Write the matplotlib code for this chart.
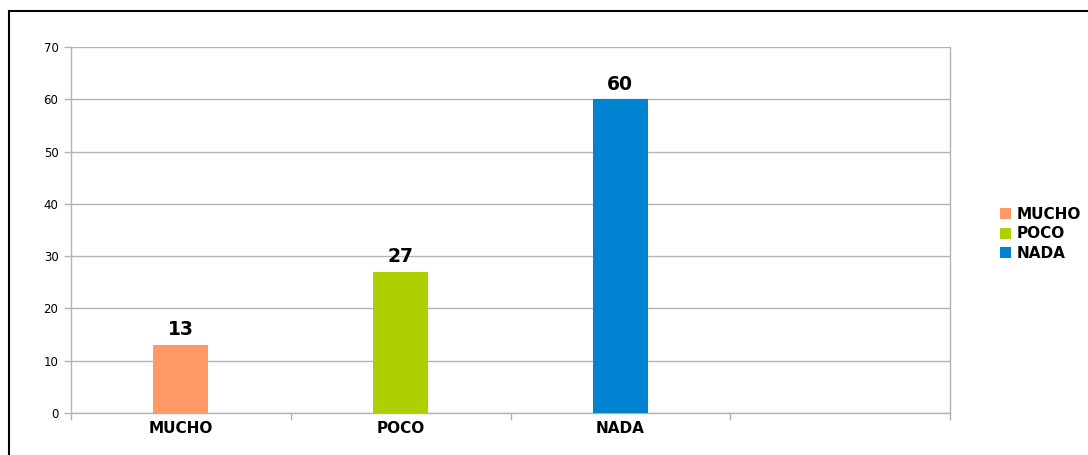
import matplotlib
matplotlib.use("Agg")
import matplotlib.pyplot as plt
from matplotlib.lines import Line2D
from matplotlib.patches import Patch

categories = ["MUCHO", "POCO", "NADA", ""]
values = [13, 27, 60]
colors = ["#FF9966", "#AECF00", "#0084D1"]
yticks = [0, 10, 20, 30, 40, 50, 60, 70]

plt.rcParams['font.family'] = ['DejaVu Sans']

fig = plt.figure(figsize=(10.88, 4.55), dpi=100)
ax = fig.add_axes([71/1088, 1 - 413/455, (950 - 71)/1088, (413 - 47)/455])

grid_c = "#B3B3B3"
x = list(range(len(values)))
ax.bar(x, values, width=0.25, color=colors, zorder=3)
for xi, v in zip(x, values):
    ax.annotate(str(v), (xi, v), xytext=(0, 4), textcoords="offset points",
                ha="center", va="bottom", fontsize=13.5, fontweight="bold", zorder=4)

ax.set_xlim(-0.5, len(categories) - 0.5)
ax.set_ylim(0, 70)
ax.set_yticks(yticks)
ax.set_yticklabels([str(t) for t in yticks], fontsize=8.5)
ax.yaxis.grid(True, color=grid_c, linewidth=1)
ax.set_axisbelow(True)

ax.set_xticks([i for i in range(len(categories))])
ax.set_xticklabels(categories, fontsize=11, fontweight="bold")
ax.tick_params(axis="x", length=0, pad=6)
# category boundary ticks
ax.set_xticks([i - 0.5 for i in range(len(categories) + 1)], minor=True)
ax.tick_params(axis="x", which="minor", length=5, color=grid_c, width=1)
ax.tick_params(axis="y", length=5, color=grid_c, width=1, pad=4)

for s in ["top"]:
    ax.spines[s].set_visible(False)
for s in ["left", "bottom", "right"]:
    ax.spines[s].set_color(grid_c)
    ax.spines[s].set_linewidth(1)

handles = [Patch(facecolor=c, edgecolor="none") for c in colors]
fig.legend(handles, categories[:3], loc="center left", bbox_to_anchor=(1000/1088, 1 - 234/455),
           frameon=False, prop={"size": 11, "weight": "bold"}, handlelength=0.7, handleheight=0.7,
           handletextpad=0.4, labelspacing=0.3, borderaxespad=0, borderpad=0)

# outer frame (left and top edges visible)
fig.add_artist(Line2D([9/1088, 9/1088], [0, 1 - 11/455], transform=fig.transFigure, color="black", linewidth=1.5))
fig.add_artist(Line2D([9/1088, 1], [1 - 11/455, 1 - 11/455], transform=fig.transFigure, color="black", linewidth=1.5))

fig.savefig("out.png", dpi=100)
